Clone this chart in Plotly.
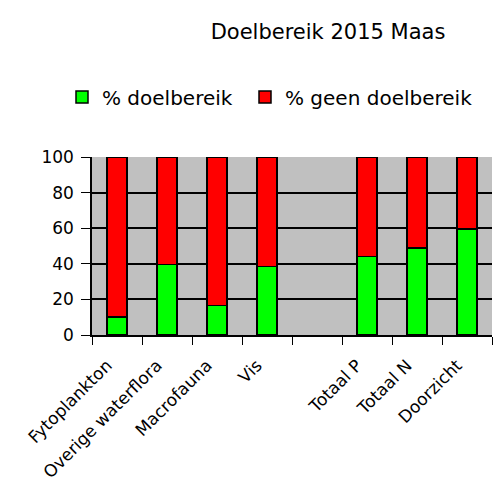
import plotly.graph_objects as go

categories = ["Fytoplankton", "Overige waterflora", "Macrofauna", "Vis", " ", "Totaal P", "Totaal N", "Doorzicht"]
doelbereik = [10, 39.5, 16.5, 38.5, None, 44, 49, 59.5]
geen_doelbereik = [90, 60.5, 83.5, 61.5, None, 56, 51, 40.5]

FONT = "DejaVu Sans, Verdana, sans-serif"
W, H = 497, 496

fig = go.Figure()
fig.add_trace(go.Bar(x=categories, y=doelbereik, name="% doelbereik", legend="legend",
                     marker=dict(color="#00ff00", line=dict(color="black", width=1.5)), width=0.4))
fig.add_trace(go.Bar(x=categories, y=geen_doelbereik, name="% geen doelbereik", legend="legend2",
                     marker=dict(color="#ff0000", line=dict(color="black", width=1.5)), width=0.4))

leg_common = dict(orientation="h", xref="container", yref="container", xanchor="left",
                  y=1 - 97 / H, yanchor="middle", font=dict(size=20, family=FONT),
                  itemwidth=30, bgcolor="rgba(0,0,0,0)", borderwidth=0)

fig.update_layout(
    barmode="stack",
    width=W, height=H,
    margin=dict(l=92, r=5, t=157, b=161, autoexpand=False),
    paper_bgcolor="white",
    plot_bgcolor="#c0c0c0",
    font=dict(family=FONT, size=16, color="black"),
    title=dict(text="Doelbereik 2015 Maas", x=328 / W, xref="container", xanchor="center",
               y=1 - 32 / H, yref="container", yanchor="middle",
               font=dict(size=21, color="black", family=FONT)),
    legend=dict(x=62 / W, **leg_common),
    legend2=dict(x=245 / W, **leg_common),
    showlegend=True,
    bargap=0.6,
)
fig.update_yaxes(range=[0, 100], dtick=20, showgrid=True, gridcolor="black", gridwidth=1.5,
                 showline=True, linecolor="black", linewidth=1.5, ticks="outside",
                 ticklen=9, tickcolor="black", tickfont=dict(size=17), zeroline=False,
                 ticklabelstandoff=4)
fig.update_xaxes(showline=True, linecolor="black", linewidth=1.5, ticks="outside",
                 tickson="boundaries", ticklen=8, tickcolor="black", tickangle=-45,
                 tickfont=dict(size=17), showgrid=False,
                 ticklabelstandoff=12, ticklabelshift=-10)

fig.write_html("out.html", config={"displayModeBar": False},
               post_script="document.body.style.margin='0px';")
